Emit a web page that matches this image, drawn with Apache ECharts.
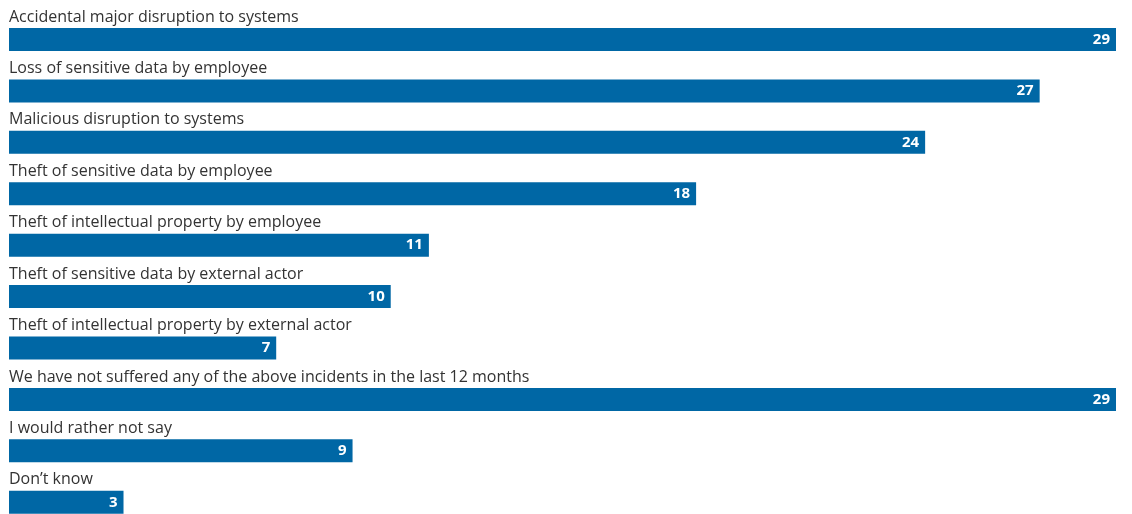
<!DOCTYPE html>
<html><head><meta charset="utf-8">
<script src="https://cdn.jsdelivr.net/npm/echarts@6/dist/echarts.min.js"></script>
<style>html,body{margin:0;padding:0;background:#fff;overflow:hidden;width:1132px;height:514px}#c{width:1132px;height:528px}</style>
</head><body><div id="c"></div>
<script>
const categories = [
  "Accidental major disruption to systems",
  "Loss of sensitive data by employee",
  "Malicious disruption to systems",
  "Theft of sensitive data by employee",
  "Theft of intellectual property by employee",
  "Theft of sensitive data by external actor",
  "Theft of intellectual property by external actor",
  "We have not suffered any of the above incidents in the last 12 months",
  "I would rather not say",
  "Don\u2019t know"
];
const values = [29, 27, 24, 18, 11, 10, 7, 29, 9, 3];

const chart = echarts.init(document.getElementById('c'), null, {renderer: 'canvas'});
chart.setOption({
  animation: false,
  grid: {left: 9, top: 13.8, bottom: 0, right: 16, containLabel: false},
  xAxis: {type: 'value', min: 0, max: 29, show: false},
  yAxis: {
    type: 'category', data: categories, inverse: true, show: false
  },
  series: [{
    type: 'bar', data: values, barWidth: 23,
    itemStyle: {color: '#0067A5'},
    label: {
      show: true, position: 'insideRight', offset: [-1, 0],
      color: '#ffffff', fontWeight: 'bold', fontFamily: 'Open Sans', fontSize: 15
    }
  }, {
    type: 'bar', data: values, barWidth: 23, barGap: '-100%',
    itemStyle: {color: 'rgba(0,0,0,0)'}, silent: true,
    label: {
      show: true, position: [0, -11], align: 'left', verticalAlign: 'middle',
      formatter: p => p.name,
      color: '#333333', fontFamily: 'Open Sans', fontSize: 16
    }
  }]
});
</script></body></html>
